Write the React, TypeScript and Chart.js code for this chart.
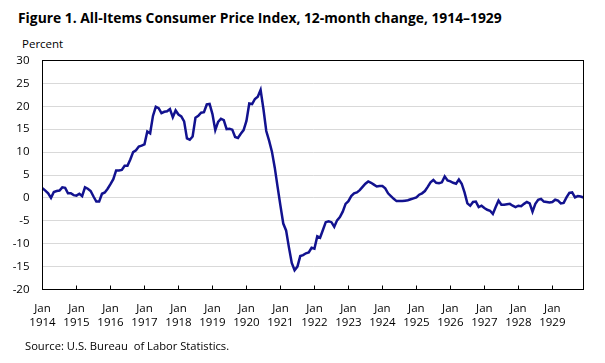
import React, { useEffect, useRef } from "react";
import { Chart, registerables } from "chart.js";

Chart.register(...registerables);

const YEARS = [1914, 1915, 1916, 1917, 1918, 1919, 1920, 1921, 1922, 1923, 1924, 1925, 1926, 1927, 1928, 1929];
const MONTHS = ["Jan", "Feb", "Mar", "Apr", "May", "Jun", "Jul", "Aug", "Sep", "Oct", "Nov", "Dec"];
const CATEGORIES: string[] = [];
YEARS.forEach((y) => MONTHS.forEach((m) => CATEGORIES.push(`${m} ${y}`)));

const Y_TICKS = [-20, -15, -10, -5, 0, 5, 10, 15, 20, 25, 30];

// 12-month percent change, monthly, Jan 1914 – Dec 1929
const CPI_1914 = [2.1, 1.6, 1.0, 0.0, 1.3, 1.5, 1.6, 2.3, 2.2, 1.0, 1.0, 0.6];
const CPI_1915 = [0.5, 0.9, 0.4, 2.3, 2.0, 1.5, 0.3, -0.8, -0.8, 0.9, 1.2, 2.0];
const CPI_1916 = [3.0, 4.1, 6.0, 6.0, 6.1, 7.0, 7.0, 8.4, 10.0, 10.4, 11.2, 11.4];
const CPI_1917 = [11.7, 14.5, 14.1, 17.9, 19.9, 19.6, 18.5, 18.8, 18.9, 19.4, 17.6, 19.1];
const CPI_1918 = [18.2, 17.8, 16.7, 13.0, 12.7, 13.4, 17.5, 17.9, 18.6, 18.7, 20.4, 20.5];
const CPI_1919 = [18.3, 14.8, 16.6, 17.3, 17.0, 15.0, 15.1, 14.9, 13.3, 13.1, 14.0, 14.8];
const CPI_1920 = [16.8, 20.6, 20.5, 21.6, 22.1, 23.6, 19.4, 14.6, 12.5, 10.1, 6.6, 2.4];
const CPI_1921 = [-1.7, -5.6, -7.1, -10.8, -14.2, -15.8, -15.0, -12.7, -12.5, -12.1, -11.9, -10.9];
const CPI_1922 = [-11.1, -8.4, -8.7, -7.0, -5.3, -5.1, -5.3, -6.3, -4.9, -4.2, -3.0, -1.3];
const CPI_1923 = [-0.7, 0.4, 1.0, 1.2, 1.7, 2.4, 3.1, 3.6, 3.3, 2.9, 2.5, 2.6];
const CPI_1924 = [2.6, 2.1, 1.0, 0.4, -0.2, -0.7, -0.7, -0.7, -0.6, -0.5, -0.3, -0.1];
const CPI_1925 = [0.1, 0.7, 1.0, 1.5, 2.4, 3.4, 3.9, 3.3, 3.2, 3.4, 4.7, 3.8];
const CPI_1926 = [3.6, 3.3, 3.1, 4.0, 3.1, 1.2, -1.2, -1.7, -0.9, -0.8, -2.0, -1.7];
const CPI_1927 = [-2.2, -2.6, -2.8, -3.5, -2.0, -0.6, -1.5, -1.5, -1.4, -1.3, -1.7, -2.0];
const CPI_1928 = [-1.7, -1.8, -1.3, -0.9, -1.2, -3.0, -1.3, -0.4, -0.2, -0.8, -0.9, -1.0];
const CPI_1929 = [-0.9, -0.4, -0.6, -1.2, -1.1, 0.1, 1.1, 1.2, 0.1, 0.4, 0.3, 0.1];

const VALUES = [
  ...CPI_1914, ...CPI_1915, ...CPI_1916, ...CPI_1917, ...CPI_1918, ...CPI_1919,
  ...CPI_1920, ...CPI_1921, ...CPI_1922, ...CPI_1923, ...CPI_1924, ...CPI_1925,
  ...CPI_1926, ...CPI_1927, ...CPI_1928, ...CPI_1929,
];

const FONT = "'Open Sans', 'Noto Sans', sans-serif";

const frame = {
  id: "frame",
  afterDraw(chart: any) {
    const { ctx, chartArea } = chart;
    const xs = chart.scales.x;
    ctx.save();
    ctx.strokeStyle = "#000";
    ctx.lineWidth = 1;
    // inward tick marks at each January
    ctx.beginPath();
    for (let i = 12; i < CATEGORIES.length; i += 12) {
      const px = Math.round(xs.getPixelForValue(i)) + 0.5;
      ctx.moveTo(px, chartArea.bottom);
      ctx.lineTo(px, chartArea.bottom - 4);
    }
    ctx.stroke();
    ctx.strokeRect(chartArea.left, chartArea.top, chartArea.right - chartArea.left, chartArea.bottom - chartArea.top);
    ctx.restore();
  },
};

export default function App() {
  const ref = useRef<HTMLCanvasElement | null>(null);
  useEffect(() => {
    if (!ref.current) return;
    const chart = new Chart(ref.current, {
      type: "line",
      data: {
        labels: CATEGORIES,
        datasets: [
          {
            data: VALUES,
            borderColor: "#12128f",
            borderWidth: 2.5,
            pointRadius: 0,
            tension: 0,
            fill: false,
          },
        ],
      },
      options: {
        responsive: false,
        animation: false,
        layout: { padding: { left: 0, top: 60.5, right: 21.5, bottom: 0 } },
        plugins: { legend: { display: false }, tooltip: { enabled: false }, title: { display: false } },
        scales: {
          x: {
            type: "category",
            offset: false,
            grid: { display: false, drawTicks: false },
            border: { display: false },
            afterFit(scale: any) {
              scale.height = 73.5;
            },
            ticks: {
              autoSkip: false,
              maxRotation: 0,
              minRotation: 0,
              padding: 12,
              color: "#000",
              font: { family: FONT, size: 11.5, lineHeight: 1.25 },
              callback: (_v: any, idx: number) =>
                idx % 12 === 0 ? [MONTHS[0], String(YEARS[idx / 12])] : null,
            },
          },
          y: {
            min: -20,
            max: 30,
            afterFit(scale: any) {
              scale.width = 42.5;
            },
            afterBuildTicks(scale: any) {
              scale.ticks = Y_TICKS.map((v) => ({ value: v }));
            },
            grid: { color: "#d9d9d9", lineWidth: 1, drawTicks: false },
            border: { display: false },
            ticks: {
              padding: 13,
              color: "#000",
              font: { family: FONT, size: 11.5 },
              callback: (v: any) => String(v),
            },
          },
        },
      },
      plugins: [frame],
    });
    return () => chart.destroy();
  }, []);

  return (
    <div style={{ position: "fixed", left: 0, top: 0, width: 605, height: 363, background: "#fff", overflow: "hidden" }}>
      <div
        style={{
          position: "absolute",
          left: 18,
          top: 8,
          fontFamily: FONT,
          fontWeight: 700,
          fontSize: 13.85,
          lineHeight: "20px",
          whiteSpace: "nowrap",
          color: "#000",
        }}
      >
        Figure 1. All-Items Consumer Price Index, 12-month change, 1914–1929
      </div>
      <div
        style={{
          position: "absolute",
          left: 22,
          top: 36,
          fontFamily: FONT,
          fontSize: 11.5,
          lineHeight: "16px",
          whiteSpace: "nowrap",
          color: "#000",
        }}
      >
        Percent
      </div>
      <canvas ref={ref} width={605} height={363} style={{ position: "absolute", left: 0, top: 0 }} />
      <div
        style={{
          position: "absolute",
          left: 25,
          top: 338,
          fontFamily: FONT,
          fontSize: 11.2,
          lineHeight: "16px",
          whiteSpace: "pre",
          color: "#000",
        }}
      >
        {"Source: U.S. Bureau  of Labor Statistics."}
      </div>
    </div>
  );
}
